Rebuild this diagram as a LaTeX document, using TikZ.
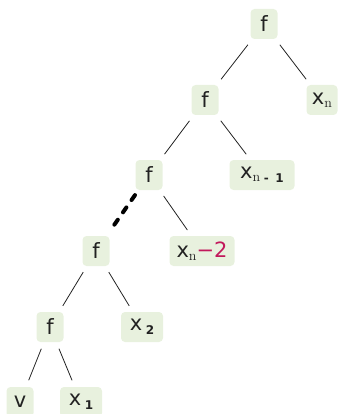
\documentclass[tikz,border=0pt]{standalone}
\usepackage{fontspec}
\newfontfamily\treefont{DejaVu Sans}
\definecolor{leaf}{HTML}{E8F1DE}
\definecolor{ink}{HTML}{222222}
\definecolor{minus}{HTML}{C2185B}
\newcommand{\lowsub}[1]{\raisebox{-4pt}{\fontsize{12}{12}\selectfont\bfseries #1}}
\newcommand{\nsub}{\raisebox{-3pt}{\fontsize{14}{14}\selectfont\rmfamily n}}

\begin{document}
\begin{tikzpicture}
	[%
	x=1pt, y=-1pt,%
	term/.style={rectangle,	rounded corners=4pt,	fill=leaf,	text=ink,	inner sep=0pt,	minimum height=30pt,	font=\treefont\fontsize{21}{24}\selectfont},%
	fn/.style  ={term,	minimum width=27pt},%
	edge/.style={draw=ink,	line width=0.8pt,	shorten >=7pt,	shorten <=7pt},%
	skip/.style={draw=black,	line width=4pt,	line cap=round,	dash pattern=on 6pt off 9pt,	shorten >=9pt,	shorten <=6pt},%
	]

	\useasboundingbox (0,0) rectangle (337,414);

	% nodes
	\node (f1)  at (264,24)  [fn] {f};
	\node (xn)  at (322,100) [term, minimum width=31pt] {x\nsub};
	\node (f2)  at (205,100) [fn] {f};
	\node (xn1) at (262,175) [term, minimum width=65pt] {x\nsub\,\lowsub{-\;\;1}};
	\node (f3)  at (149,175) [fn] {f};
	\node (f4)  at (96,251)  [fn] {f};
	\node (xn2) at (202,251) [term, minimum width=65pt] {x\nsub\textcolor{minus}{−2}};
	\node (f5)  at (50,327)  [fn] {f};
	\node (x2)  at (142,327) [term, minimum width=42pt] {x\,\lowsub{2}};
	\node (v)   at (20,402)  [fn] {v};
	\node (x1)  at (81,402)  [term, minimum width=42pt] {x\,\lowsub{1}};

	% edges
	\draw [edge] (f1) -- (f2);
	\draw [edge] (f1) -- (xn);
	\draw [edge] (f2) -- (f3);
	\draw [edge] (f2) -- (xn1);
	\draw [skip] (f3) -- (f4);
	\draw [edge] (f3) -- (xn2);
	\foreach \a/\b in {f4/f5, f4/x2, f5/v, f5/x1}%
		\draw [edge] (\a) -- (\b);

\end{tikzpicture}
\end{document}
